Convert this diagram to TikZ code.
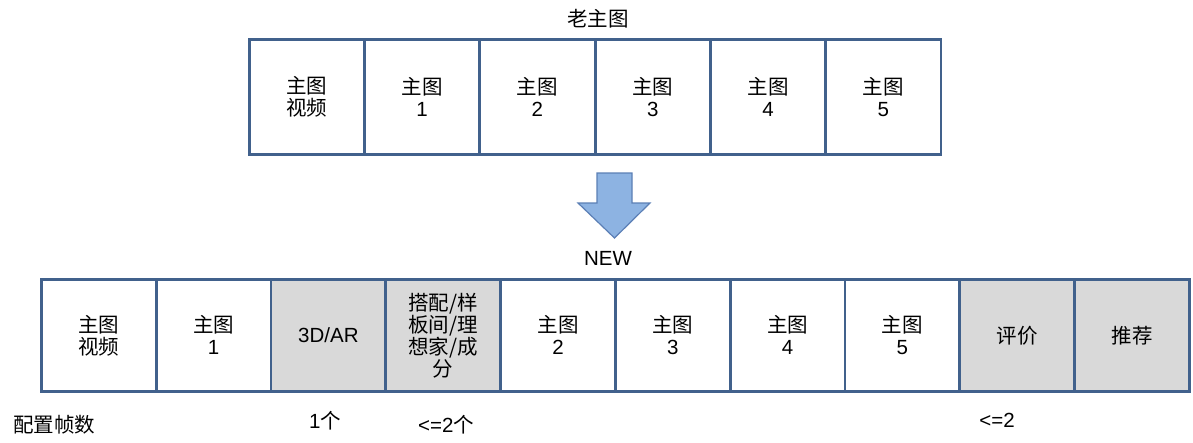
\documentclass[tikz,border=0pt]{standalone}
\usepackage{fontspec}
\setmainfont{Liberation Sans}
\newfontfamily\cjk{Noto Sans CJK SC}
\definecolor{bord}{HTML}{41618C}
\definecolor{grayfill}{HTML}{D9D9D9}
\definecolor{arrfill}{HTML}{8DB3E2}
\definecolor{arrline}{HTML}{5B7FB5}
\begin{document}
\begin{tikzpicture}[x=1pt,y=-1pt,
  cell/.style={draw=bord,line width=2.6pt,minimum width=115pt,anchor=north west,align=center,font=\fontsize{20.5}{22}\selectfont,inner sep=0pt},
  topcell/.style={cell,minimum height=115pt},
  botcell/.style={cell,minimum height=112pt},
  shaded/.style={fill=grayfill},
  lbl/.style={font=\fontsize{20.5}{22}\selectfont,inner sep=0pt}]
\useasboundingbox (0,0) rectangle (1193,442);
\node[lbl] (old) at (598,19) {\cjk 老主图};
\foreach \i/\t in {0/{\cjk 主图\\\cjk 视频},1/{\cjk 主图\\1},2/{\cjk 主图\\2},3/{\cjk 主图\\3},4/{\cjk 主图\\4},5/{\cjk 主图\\5}}{
  \node[topcell] (t\i) at ({248+115.3*\i},38) {\t};
}
\draw[fill=arrfill,draw=arrline,line width=1.2pt] (597,173) -- (632,173) -- (632,203) -- (650,203) -- (614.5,238) -- (578,203) -- (597,203) -- cycle;
\node[lbl] (new) at (608,258) {NEW};
\foreach \i/\t/\s in {0/{\cjk 主图\\\cjk 视频}/,1/{\cjk 主图\\1}/,2/{3D/AR}/shaded,3/{\cjk 搭配/样\\\cjk 板间/理\\\cjk 想家/成\\\cjk 分}/shaded,4/{\cjk 主图\\2}/,5/{\cjk 主图\\3}/,6/{\cjk 主图\\4}/,7/{\cjk 主图\\5}/,8/{\cjk 评价}/shaded,9/{\cjk 推荐}/shaded}{
  \node[botcell,\s] (b\i) at ({40+114.8*\i},278) {\t};
}
\node[lbl] (l1) at (54,425) {\cjk 配置帧数};
\node[lbl] (l2) at (325,421) {1\cjk 个};
\node[lbl] (l3) at (446,425) {<=2\cjk 个};
\node[lbl] (l4) at (997,420) {<=2};
\end{tikzpicture}
\end{document}
